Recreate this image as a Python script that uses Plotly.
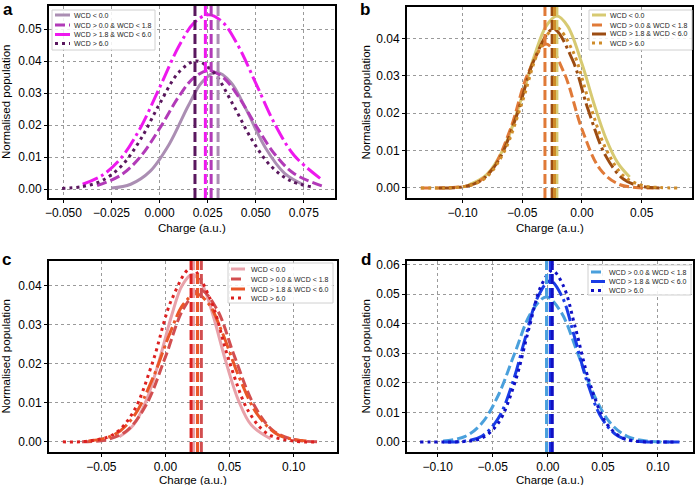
import plotly.graph_objects as go
from plotly.subplots import make_subplots

W, H = 696, 485
FONT = "Liberation Sans, Arial, Helvetica, sans-serif"

labels = ["WCD &lt; 0.0", "WCD &gt; 0.0 &amp; WCD &lt; 1.8",
          "WCD &gt; 1.8 &amp; WCD &lt; 6.0", "WCD &gt; 6.0"]

# ---- panel a ----
a_x_lt0 = [-0.025, -0.015, -0.005, 0.005, 0.015, 0.022, 0.0295, 0.037, 0.045, 0.055, 0.065, 0.075]
a_y_lt0 = [0.0003, 0.0015, 0.0055, 0.0140, 0.0261, 0.0334, 0.0365, 0.0334, 0.0249, 0.0129, 0.0049, 0.0013]
a_x_0_18 = [-0.0325, -0.02, -0.01, 0.0, 0.01, 0.018, 0.0255, 0.033, 0.041, 0.05, 0.06, 0.07, 0.0844]
a_y_0_18 = [0.0011, 0.0044, 0.0101, 0.0189, 0.0289, 0.0349, 0.037, 0.0349, 0.0289, 0.0199, 0.0108, 0.0048, 0.0010]
a_x_18_6 = [-0.04, -0.03, -0.02, -0.01, 0.0, 0.01, 0.018, 0.0255, 0.033, 0.041, 0.05, 0.06, 0.07, 0.084]
a_y_18_6 = [0.0015, 0.0042, 0.0097, 0.0191, 0.0317, 0.0446, 0.0520, 0.0545, 0.0520, 0.0446, 0.0331, 0.0202, 0.0105, 0.0031]
a_x_gt6 = [-0.0507, -0.04, -0.03, -0.02, -0.01, 0.0, 0.01, 0.019, 0.028, 0.038, 0.048, 0.058, 0.068, 0.0786]
a_y_gt6 = [0.0002, 0.0008, 0.0026, 0.0071, 0.0154, 0.0266, 0.0365, 0.040, 0.0365, 0.0266, 0.0154, 0.0071, 0.0026, 0.0007]
a_means = [0.0304, 0.0268, 0.0238, 0.0184]

# ---- panel b ----
b_x_lt0 = [-0.095, -0.08, -0.065, -0.05, -0.04, -0.03, -0.021, -0.012, 0.0, 0.01, 0.02, 0.03, 0.04]
b_y_lt0 = [0.0008, 0.0035, 0.0110, 0.0247, 0.0352, 0.0433, 0.046, 0.0433, 0.0332, 0.0226, 0.0133, 0.0067, 0.0029]
b_x_0_18 = [-0.135, -0.11, -0.09, -0.075, -0.06, -0.045, -0.030, -0.015, 0.0, 0.015, 0.03, 0.045, 0.06]
b_y_0_18 = [0.0, 0.0001, 0.0011, 0.0051, 0.0157, 0.0308, 0.0385, 0.0308, 0.0157, 0.0051, 0.0011, 0.0001, 0.0]
b_x_18_6 = [-0.12, -0.10, -0.085, -0.07, -0.055, -0.04, -0.024, -0.008, 0.005, 0.02, 0.035, 0.05, 0.065]
b_y_18_6 = [0.0, 0.0003, 0.0019, 0.0073, 0.0191, 0.0343, 0.0425, 0.0343, 0.0211, 0.0085, 0.0023, 0.0004, 0.0]
b_x_gt6 = [-0.135, -0.115, -0.095, -0.08, -0.065, -0.05, -0.036, -0.022, -0.008, 0.006, 0.02, 0.035, 0.05, 0.065, 0.082]
b_y_gt6 = [0.0, 0.0, 0.0006, 0.0029, 0.0098, 0.0230, 0.0368, 0.043, 0.0368, 0.0230, 0.0105, 0.0032, 0.0007, 0.0001, 0.0]
b_means = [-0.021, -0.031, -0.025, -0.023]

# ---- panel c ----
c_x_lt0 = [-0.036, -0.025, -0.015, -0.005, 0.005, 0.013, 0.021, 0.029, 0.037, 0.047, 0.057, 0.067, 0.082]
c_y_lt0 = [0.0013, 0.0043, 0.0106, 0.0207, 0.0326, 0.0401, 0.043, 0.0401, 0.0326, 0.0207, 0.0106, 0.0043, 0.0008]
c_x_0_18 = [-0.065, -0.045, -0.03, -0.015, 0.0, 0.014, 0.027, 0.04, 0.054, 0.069, 0.084, 0.10, 0.12]
c_y_0_18 = [0.0, 0.0006, 0.0029, 0.0095, 0.0218, 0.0341, 0.039, 0.0341, 0.0218, 0.0095, 0.0029, 0.0006, 0.0]
c_x_18_6 = [-0.06, -0.04, -0.025, -0.01, 0.004, 0.014, 0.024, 0.034, 0.044, 0.058, 0.072, 0.088, 0.11]
c_y_18_6 = [0.0002, 0.0018, 0.0064, 0.0162, 0.0283, 0.0353, 0.038, 0.0353, 0.0283, 0.0162, 0.0069, 0.0018, 0.0002]
c_x_gt6 = [-0.08, -0.06, -0.04, -0.025, -0.01, 0.005, 0.02, 0.035, 0.05, 0.065, 0.08, 0.10, 0.119]
c_y_gt6 = [0.0, 0.0002, 0.0020, 0.0077, 0.0204, 0.0366, 0.0445, 0.0366, 0.0204, 0.0077, 0.0020, 0.0002, 0.0]
c_means = [0.022, 0.028, 0.025, 0.020]

# ---- panel d (no WCD < 0.0 group) ----
d_x_0_18 = [-0.095, -0.075, -0.06, -0.045, -0.03, -0.015, -0.0015, 0.012, 0.027, 0.042, 0.057, 0.072, 0.09, 0.11]
d_y_0_18 = [0.0003, 0.0019, 0.0063, 0.0158, 0.0301, 0.0439, 0.049, 0.0439, 0.0301, 0.0158, 0.0063, 0.0019, 0.0003, 0.0]
d_x_18_6 = [-0.095, -0.075, -0.06, -0.045, -0.032, -0.02, -0.009, 0.002, 0.013, 0.024, 0.036, 0.049, 0.064, 0.08, 0.10, 0.12]
d_y_18_6 = [0.0, 0.0003, 0.0019, 0.0080, 0.0200, 0.0358, 0.0491, 0.0545, 0.0491, 0.0358, 0.0200, 0.0080, 0.0019, 0.0003, 0.0, 0.0]
d_x_gt6 = [-0.116, -0.095, -0.075, -0.06, -0.045, -0.03, -0.017, -0.006, 0.004, 0.014, 0.025, 0.038, 0.053, 0.068, 0.085, 0.10, 0.118]
d_y_gt6 = [0.0, 0.0, 0.0002, 0.0013, 0.0064, 0.0200, 0.0386, 0.0529, 0.058, 0.0529, 0.0386, 0.0200, 0.0064, 0.0013, 0.0001, 0.0, 0.0]
d_means = [None, -0.0012, 0.0022, 0.004]

a_colors = ["#ab8eb3", "#b23ab8", "#ee18ee", "#5a175e"]
b_colors = ["#d7ca72", "#e07a38", "#9c4c12", "#cf8c2a"]
c_colors = ["#e8a2aa", "#d24e50", "#ea5628", "#dc2020"]
d_colors = [None, "#4aa0dc", "#1a3ce6", "#1010c4"]

dashes = ["solid", "10px,4px", "16px,4px,3px,4px", "3px,4px"]

panels = [
    dict(row=1, col=1, letter="a", colors=a_colors, means=a_means,
         curves=[(0, a_x_lt0, a_y_lt0), (1, a_x_0_18, a_y_0_18), (2, a_x_18_6, a_y_18_6), (3, a_x_gt6, a_y_gt6)],
         dom_x=(49, 335), dom_y=(6, 198), xr=[-0.0575, 0.0912], yr=[-0.0028, 0.0572],
         xt=[-0.05, -0.025, 0, 0.025, 0.05, 0.075], xf=".3f", yt=[0, 0.01, 0.02, 0.03, 0.04, 0.05],
         letter_xy=(1, 9), ytitle_x=6, xtitle_y=228,
         leg_box=(52, 10, 155, 50), leg_rows=[15, 25, 34.5, 43.5], leg_x=(55, 70, 73)),
    dict(row=1, col=2, letter="b", colors=b_colors, means=b_means,
         curves=[(0, b_x_lt0, b_y_lt0), (1, b_x_0_18, b_y_0_18), (2, b_x_18_6, b_y_18_6), (3, b_x_gt6, b_y_gt6)],
         dom_x=(407, 692), dom_y=(7, 198), xr=[-0.1466, 0.0922], yr=[-0.0027, 0.0484],
         xt=[-0.10, -0.05, 0, 0.05], xf=".2f", yt=[0, 0.01, 0.02, 0.03, 0.04],
         letter_xy=(358, 9), ytitle_x=365, xtitle_y=228,
         leg_box=(589, 10, 692, 50), leg_rows=[15, 25, 34, 43], leg_x=(592, 606, 609)),
    dict(row=2, col=1, letter="c", colors=c_colors, means=c_means,
         curves=[(0, c_x_lt0, c_y_lt0), (1, c_x_0_18, c_y_0_18), (2, c_x_18_6, c_y_18_6), (3, c_x_gt6, c_y_gt6)],
         dom_x=(49, 337), dom_y=(261, 452), xr=[-0.0908, 0.1338], yr=[-0.0026, 0.0464],
         xt=[-0.05, 0, 0.05, 0.10], xf=".2f", yt=[0, 0.01, 0.02, 0.03, 0.04],
         letter_xy=(0, 259), ytitle_x=5, xtitle_y=479.5,
         leg_box=(228, 263, 333, 303), leg_rows=[269, 279, 289, 298], leg_x=(231, 245, 250)),
    dict(row=2, col=2, letter="d", colors=d_colors, means=d_means,
         curves=[(1, d_x_0_18, d_y_0_18), (2, d_x_18_6, d_y_18_6), (3, d_x_gt6, d_y_gt6)],
         dom_x=(407, 693), dom_y=(261, 452), xr=[-0.1279, 0.1318], yr=[-0.0034, 0.0612],
         xt=[-0.10, -0.05, 0, 0.05, 0.10], xf=".2f", yt=[0, 0.01, 0.02, 0.03, 0.04, 0.05, 0.06],
         letter_xy=(359, 259), ytitle_x=365, xtitle_y=479.5,
         leg_box=(588, 265, 691, 295), leg_rows=[272, 281.5, 290.5], leg_x=(591, 605, 608)),
]


def px(x):
    return x / W


def py(y):
    return 1 - y / H


fig = make_subplots(rows=2, cols=2)

for p in panels:
    r, c = p["row"], p["col"]
    for k, xs, ys in p["curves"]:
        fig.add_trace(go.Scatter(x=xs, y=ys, mode="lines", line_shape="spline",
                                 line=dict(color=p["colors"][k], width=3, dash=dashes[k]),
                                 showlegend=False), row=r, col=c)
    for k, m in enumerate(p["means"]):
        if m is None:
            continue
        fig.add_vline(x=m, line=dict(color=p["colors"][k], width=3, dash="10px,4px"),
                      layer="above", row=r, col=c)

    fig.update_xaxes(domain=[px(p["dom_x"][0]), px(p["dom_x"][1])], range=p["xr"],
                     tickvals=p["xt"], tickformat=p["xf"], row=r, col=c)
    fig.update_yaxes(domain=[py(p["dom_y"][1]), py(p["dom_y"][0])], range=p["yr"],
                     tickvals=p["yt"], tickformat=".2f", row=r, col=c)

    # axis titles placed at the reference's pixel positions
    fig.add_annotation(text="Charge (a.u.)", xref="paper", yref="paper",
                       x=px((p["dom_x"][0] + p["dom_x"][1]) / 2), y=py(p["xtitle_y"]),
                       xanchor="center", yanchor="middle", showarrow=False, borderpad=0,
                       font=dict(size=11.5, color="black"))
    fig.add_annotation(text="Normalised population", xref="paper", yref="paper",
                       x=px(p["ytitle_x"]), y=py((p["dom_y"][0] + p["dom_y"][1]) / 2),
                       xanchor="center", yanchor="middle", textangle=-90, showarrow=False,
                       font=dict(size=11.5, color="black"))

    fig.add_annotation(text="<b>%s</b>" % p["letter"], xref="paper", yref="paper",
                       x=px(p["letter_xy"][0]), y=py(p["letter_xy"][1]),
                       xanchor="left", yanchor="middle", showarrow=False,
                       font=dict(size=17, color="black"))

    # legend box
    x0, y0, x1, y1 = p["leg_box"]
    fig.add_shape(type="rect", xref="paper", yref="paper", x0=px(x0), x1=px(x1),
                  y0=py(y1), y1=py(y0), line=dict(color="#d0d0d0", width=1),
                  fillcolor="rgba(255,255,255,0.85)", layer="above")
    lx0, lx1, tx = p["leg_x"]
    for (k, _, _), ry in zip(p["curves"], p["leg_rows"]):
        fig.add_shape(type="line", xref="paper", yref="paper", x0=px(lx0), x1=px(lx1),
                      y0=py(ry), y1=py(ry), layer="above",
                      line=dict(color=p["colors"][k], width=3, dash=dashes[k]))
        fig.add_annotation(text=labels[k], xref="paper", yref="paper", x=px(tx), y=py(ry),
                           xanchor="left", yanchor="middle", showarrow=False, borderpad=0,
                           font=dict(size=7, color="#222"))

axis_style = dict(showline=True, mirror=True, linecolor="black", linewidth=2,
                  ticks="outside", ticklen=3, tickcolor="black", zeroline=False,
                  showgrid=True, gridcolor="#9a9a9a", griddash="dot", gridwidth=1,
                  automargin=False, tickfont=dict(size=12))
fig.update_xaxes(**axis_style)
fig.update_yaxes(**axis_style)

fig.update_layout(width=W, height=H, margin=dict(l=0, r=0, t=0, b=0),
                  plot_bgcolor="white", paper_bgcolor="white",
                  font=dict(family=FONT, size=12, color="black"))

# drop the page's default body margin so the figure sits at the window's corner
fig.write_html("out.html", config={"displayModeBar": False},
               post_script="document.body.style.margin='0';")
